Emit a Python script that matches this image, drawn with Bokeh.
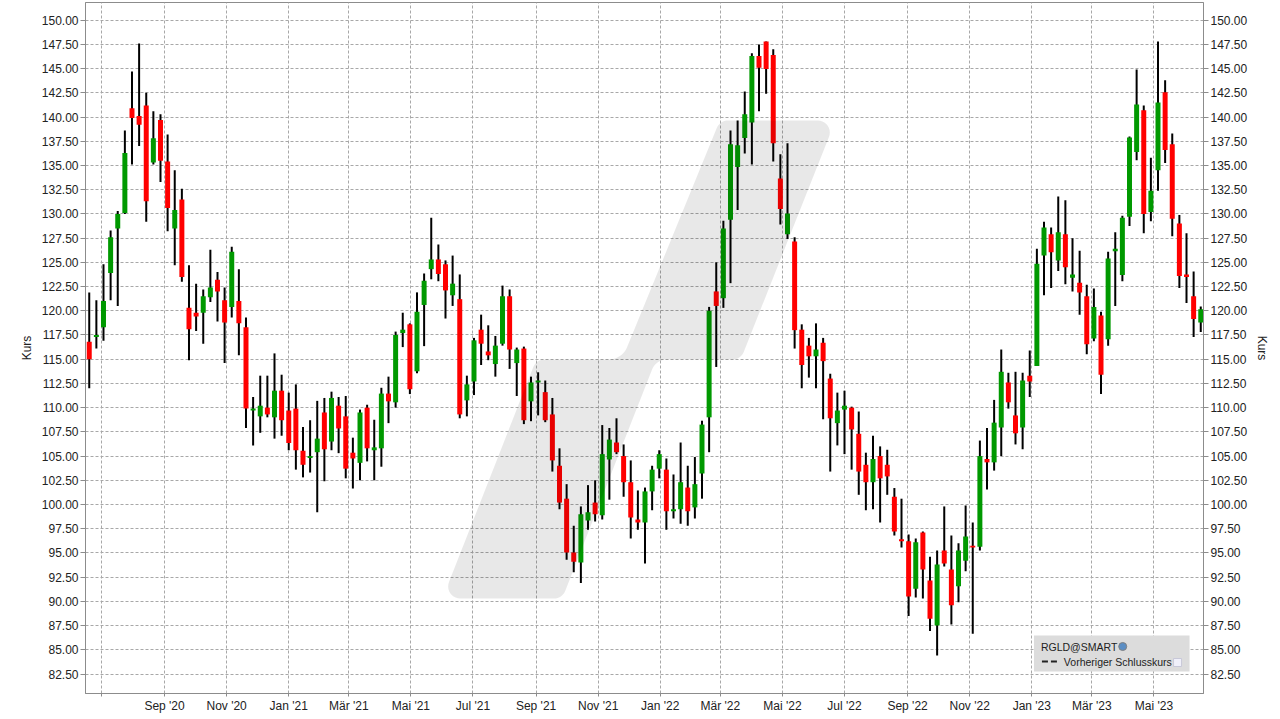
import numpy as np
import pandas as pd
from bokeh.plotting import figure
from bokeh.models import Range1d, FixedTicker, LinearAxis, PrintfTickFormatter, CustomJSTickFormatter
from bokeh.embed import file_html
from bokeh.resources import INLINE
from bokeh.core.properties import value

# ---------------- data (weekly candles, RGLD) ----------------
week_start = "2020-06-19"
n_weeks = 157
opens = [116.8, 117.3, 118.3, 123.9, 128.5, 130.1, 140.9, 140.1, 141.2, 135.3,
         139.7, 135.4, 128.5, 131.5, 120.3, 119.8, 119.8, 121.4, 123.2, 121.1,
         120.4, 121.0, 118.3, 109.7, 109.1, 110.0, 109.0, 111.75, 109.7, 109.9,
         105.55, 104.8, 105.4, 109.5, 106.5, 110.2, 109.1, 105.35, 104.3, 110.0,
         105.6, 105.8, 111.45, 110.55, 117.7, 118.6, 113.75, 120.6, 124.3, 125.3,
         124.8, 121.6, 121.2, 110.75, 112.7, 118.05, 115.8, 114.5, 116.6, 121.5,
         114.6, 116.1, 110.65, 112.6, 111.6, 109.3, 104.0, 100.6, 95.05, 94.0,
         98.35, 100.2, 98.9, 104.65, 106.4, 105.0, 102.3, 98.45, 98.15, 101.35,
         103.7, 103.6, 99.3, 99.5, 101.75, 99.7, 103.2, 109.0, 122.0, 121.3,
         129.4, 134.85, 137.85, 139.45, 146.3, 147.8, 146.4, 133.65, 127.9, 127.15,
         118.05, 116.4, 115.3, 116.7, 113.0, 108.4, 109.8, 110.0, 107.3, 104.1,
         102.3, 105.0, 104.1, 100.8, 96.4, 96.2, 91.3, 97.1, 92.15, 87.5,
         95.25, 93.3, 91.55, 94.2, 95.75, 95.65, 104.7, 104.35, 107.95, 112.6,
         109.2, 107.95, 113.3, 114.3, 125.7, 127.9, 125.2, 127.9, 123.4, 122.9,
         121.5, 117.15, 119.5, 117.05, 126.15, 123.7, 129.7, 136.4, 140.7, 130.2,
         134.5, 142.55, 137.2, 129.0, 123.75, 121.5, 118.8]
highs = [121.9, 121.1, 124.8, 128.3, 130.3, 138.6, 144.7, 147.6, 142.5, 140.6,
         140.3, 138.2, 134.5, 132.6, 124.7, 122.8, 122.2, 126.3, 124.0, 122.4,
         126.6, 124.3, 119.3, 111.1, 113.3, 113.3, 115.6, 113.4, 111.55, 112.4,
         108.0, 108.7, 110.7, 111.0, 111.65, 111.1, 111.2, 106.9, 109.8, 110.3,
         108.75, 112.05, 113.2, 117.85, 119.8, 118.7, 121.9, 123.85, 129.6, 126.85,
         125.2, 125.7, 123.75, 113.3, 117.2, 119.6, 118.5, 117.4, 122.6, 122.2,
         116.2, 116.3, 113.2, 113.65, 112.8, 111.0, 105.8, 102.1, 97.8, 99.8,
         102.0, 102.5, 108.2, 107.9, 108.9, 106.2, 104.55, 101.45, 101.75, 104.0,
         105.6, 104.75, 103.1, 106.4, 104.0, 104.9, 108.65, 120.4, 125.0, 129.3,
         138.6, 139.65, 142.65, 146.6, 147.5, 147.8, 147.0, 136.15, 137.3, 127.6,
         118.6, 117.2, 118.7, 117.2, 113.5, 111.55, 111.75, 110.1, 109.6, 105.35,
         107.1, 106.0, 105.65, 101.7, 100.6, 96.9, 96.5, 97.2, 94.6, 95.25,
         99.8, 96.8, 96.0, 99.9, 98.15, 106.6, 107.9, 110.8, 116.0, 113.6,
         113.7, 113.6, 115.9, 126.4, 129.2, 128.6, 131.8, 131.4, 127.5, 126.2,
         122.7, 122.3, 119.9, 126.1, 128.1, 129.8, 138.0, 144.9, 141.2, 135.8,
         147.8, 143.8, 138.3, 129.9, 128.0, 124.05, 120.45]
lows = [112.0, 116.1, 116.9, 121.1, 120.5, 130.0, 135.1, 137.0, 129.2, 135.1,
        133.3, 128.2, 124.7, 123.0, 114.9, 117.9, 116.6, 120.9, 118.9, 114.6,
        119.3, 115.4, 107.9, 106.1, 107.4, 109.0, 106.8, 107.1, 105.6, 103.6,
        102.8, 103.3, 99.2, 102.4, 105.6, 105.3, 102.7, 101.65, 102.5, 104.45,
        102.5, 103.9, 108.4, 110.0, 116.25, 111.4, 113.55, 116.35, 123.25, 123.05,
        119.2, 120.5, 108.9, 109.1, 111.3, 114.4, 114.9, 113.2, 116.4, 114.0,
        111.2, 108.3, 108.6, 109.2, 108.5, 103.4, 99.5, 94.3, 93.0, 91.9,
        97.4, 98.25, 98.45, 100.5, 105.2, 100.8, 96.5, 97.4, 93.9, 99.4,
        102.7, 97.4, 98.55, 98.0, 97.8, 98.55, 100.6, 105.4, 114.2, 120.3,
        122.85, 130.4, 136.25, 135.1, 140.6, 142.4, 135.4, 128.9, 127.4, 116.1,
        112.0, 113.1, 112.0, 108.8, 103.4, 106.1, 105.2, 103.6, 101.0, 99.4,
        99.5, 98.15, 101.0, 96.8, 95.55, 88.5, 90.4, 90.3, 86.95, 84.4,
        93.6, 87.6, 89.9, 93.1, 86.65, 95.25, 101.55, 103.5, 105.0, 109.9,
        106.2, 105.7, 111.1, 114.3, 121.6, 122.35, 124.1, 122.75, 122.0, 119.6,
        115.5, 116.85, 111.4, 116.4, 120.5, 123.05, 128.75, 135.55, 128.0, 129.25,
        132.4, 135.25, 127.7, 122.35, 120.8, 117.3, 117.8]
closes = [115.0, 117.5, 121.0, 127.6, 130.0, 136.3, 139.9, 139.2, 131.3, 137.8,
          135.5, 130.6, 130.4, 123.5, 118.1, 119.4, 121.5, 122.4, 122.0, 118.8,
          126.1, 118.7, 109.9, 109.9, 110.2, 109.3, 111.75, 108.7, 106.35, 105.6,
          104.1, 105.0, 106.8, 105.7, 111.0, 107.85, 103.7, 104.75, 109.5, 105.8,
          105.9, 111.45, 110.65, 117.5, 118.05, 111.9, 119.9, 123.1, 125.3, 123.8,
          122.1, 122.8, 109.3, 112.4, 116.95, 116.6, 115.4, 116.4, 121.5, 116.0,
          116.0, 108.7, 112.6, 112.8, 108.7, 104.55, 100.2, 95.05, 94.1, 99.0,
          99.2, 99.0, 105.2, 106.7, 105.4, 102.3, 98.65, 98.15, 101.35, 103.6,
          105.2, 99.3, 99.5, 102.3, 99.3, 102.1, 108.25, 120.0, 120.5, 128.5,
          137.2, 137.1, 140.3, 146.3, 145.1, 144.95, 137.3, 130.5, 130.05, 118.0,
          114.4, 115.3, 116.0, 114.8, 108.9, 109.7, 110.2, 107.75, 103.4, 102.3,
          104.7, 102.7, 102.9, 97.2, 96.2, 90.5, 96.1, 93.3, 88.2, 93.8,
          93.9, 89.6, 95.25, 96.7, 95.55, 105.0, 104.35, 108.45, 113.7, 110.55,
          107.35, 112.8, 112.7, 124.85, 128.6, 126.05, 128.1, 124.5, 123.75, 121.9,
          116.55, 120.4, 113.4, 125.4, 126.4, 129.6, 137.9, 141.3, 130.0, 132.4,
          141.5, 136.6, 129.5, 123.6, 123.5, 119.15, 120.15]

tick_dates = ["2020-07-01", "2020-09-01", "2020-11-01", "2021-01-01", "2021-03-01",
              "2021-05-01", "2021-07-01", "2021-09-01", "2021-11-01", "2022-01-01",
              "2022-03-01", "2022-05-01", "2022-07-01", "2022-09-01", "2022-11-01",
              "2023-01-01", "2023-03-01", "2023-05-01"]
tick_labels = ["", "Sep '20", "Nov '20", "Jan '21", "Mär '21", "Mai '21", "Jul '21",
               "Sep '21", "Nov '21", "Jan '22", "Mär '22", "Mai '22", "Jul '22",
               "Sep '22", "Nov '22", "Jan '23", "Mär '23", "Mai '23"]
y_ticks = [82.5 + 2.5 * i for i in range(28)]

# ---------------- helpers (layout: reference pixel -> data) ----------------
DAY = 86400000.0
def ms(d):
    return pd.Timestamp(d).value / 1e6

T0 = ms("2020-07-01")
def px_x(px):
    return T0 + (px - 101.0) / 1.0206 * DAY
def px_y(py):
    return 150.0 - (py - 19.7) / 9.686

dates = pd.date_range(week_start, periods=n_weeks, freq="7D")
xs = [ms(d) for d in dates]
o = np.array(opens); c = np.array(closes)
tops = np.maximum(o, c); bots = np.minimum(o, c)
cols = ["#009900" if cc >= oo else "#ff0000" for oo, cc in zip(opens, closes)]

FL, FR, FT, FB = 85, 1206, 2, 693
p = figure(width=1272, height=716, output_backend="svg", toolbar_location=None,
           x_range=Range1d(px_x(FL), px_x(FR)), y_range=Range1d(px_y(FB), px_y(FT)),
           min_border_left=FL, min_border_right=1272 - FR, min_border_top=FT, min_border_bottom=716 - FB,
           background_fill_color="white", border_fill_color="white")
p.outline_line_color = "#8c8c8c"

tick_ms = [ms(d) for d in tick_dates]
xticker = FixedTicker(ticks=tick_ms)
yticker = FixedTicker(ticks=y_ticks)
p.xaxis.ticker = xticker
p.xaxis.formatter = CustomJSTickFormatter(args=dict(tk=tick_ms, lb=tick_labels), code="""
for (let i = 0; i < tk.length; i++) { if (Math.abs(tk[i] - tick) < 1e6) return lb[i]; }
return '';
""")
p.yaxis.ticker = yticker
p.yaxis.formatter = PrintfTickFormatter(format="%.2f")
p.yaxis.axis_label = "Kurs"
right = LinearAxis(ticker=yticker, formatter=PrintfTickFormatter(format="%.2f"), axis_label="Kurs")
p.add_layout(right, "right")

for ax in p.axis:
    ax.major_label_text_font = "Liberation Sans"
    ax.major_label_text_font_size = "12px"
    ax.major_label_text_color = "#222222"
    ax.axis_label_text_font = "Liberation Sans"
    ax.axis_label_text_font_size = "12px"
    ax.axis_label_text_font_style = "normal"
    ax.axis_label_text_color = "#222222"
    ax.axis_label_standoff = 5
    ax.axis_line_color = "#8c8c8c"
    ax.major_tick_line_color = "#8c8c8c"
    ax.major_tick_in = 0
    ax.major_tick_out = 5
    ax.minor_tick_line_color = None
    ax.major_label_standoff = 2
p.xaxis.major_tick_out = 3

p.xgrid.ticker = xticker
p.ygrid.ticker = yticker
for g in (p.xgrid, p.ygrid):
    g.grid_line_color = "#a8a8a8"
    g.grid_line_dash = "3 2"
    g.grid_line_width = 1

# candles
p.segment(x0=xs, y0=lows, x1=xs, y1=highs, line_color="black", line_width=2)
p.vbar(x=xs, width=4.9 * DAY, top=tops, bottom=bots, fill_color=cols, line_color=None)

# watermark (decorative, rounded stepped slash)
def rounded(points, radii, n=10):
    out = []
    N = len(points)
    for i in range(N):
        p0 = np.array(points[i - 1], float); p1 = np.array(points[i], float)
        p2 = np.array(points[(i + 1) % N], float)
        v1 = (p0 - p1) / np.linalg.norm(p0 - p1)
        v2 = (p2 - p1) / np.linalg.norm(p2 - p1)
        ang = np.arccos(np.clip(np.dot(v1, v2), -1, 1))
        r = radii[i]
        t = r / np.tan(ang / 2)
        a = p1 + v1 * t; b = p1 + v2 * t
        bis = (v1 + v2) / np.linalg.norm(v1 + v2)
        cen = p1 + bis * r / np.sin(ang / 2)
        aa = np.arctan2(*(a - cen)[::-1]); ab = np.arctan2(*(b - cen)[::-1])
        d = (ab - aa + np.pi) % (2 * np.pi) - np.pi
        for k in range(n + 1):
            th = aa + d * k / n
            out.append(cen + r * np.array([np.cos(th), np.sin(th)]))
    return out

wm_px = [(721, 120), (837, 120), (742, 359), (657, 359), (563, 598), (443, 598), (537, 359), (623, 359)]
wm_r = [12, 12, 12, 16, 12, 12, 12, 20]
pts = rounded(wm_px, wm_r)
p.patch([px_x(q[0]) for q in pts], [px_y(q[1]) for q in pts], fill_color="black", fill_alpha=0.09, line_color=None)

# legend box
p.quad(left=[px_x(1036)], right=[px_x(1192)], top=[px_y(635)], bottom=[px_y(671)],
       fill_color="#dcdcdc", line_color=None)
p.text(x=[px_x(1043)], y=[px_y(646)], text=["RGLD@SMART"], text_font=value("Liberation Sans"),
       text_font_size="10.5px", text_baseline="middle", text_color="#222222")
p.scatter(x=[px_x(1125)], y=[px_y(646)], size=8, marker="circle", fill_color="#5b8ec4", line_color="#808080")
p.line(x=[px_x(1044), px_x(1061)], y=[px_y(661), px_y(661)], line_dash="6 3", line_width=2, line_color="#222222")
p.text(x=[px_x(1066)], y=[px_y(661)], text=["Vorheriger Schlusskurs"], text_font=value("Liberation Sans"),
       text_font_size="10.5px", text_baseline="middle", text_color="#222222")
p.scatter(x=[px_x(1180)], y=[px_y(662)], size=8, marker="square", fill_color="#f0f0fa", line_color="#c8c8d8")

open("out.html", "w").write(file_html(p, INLINE))
